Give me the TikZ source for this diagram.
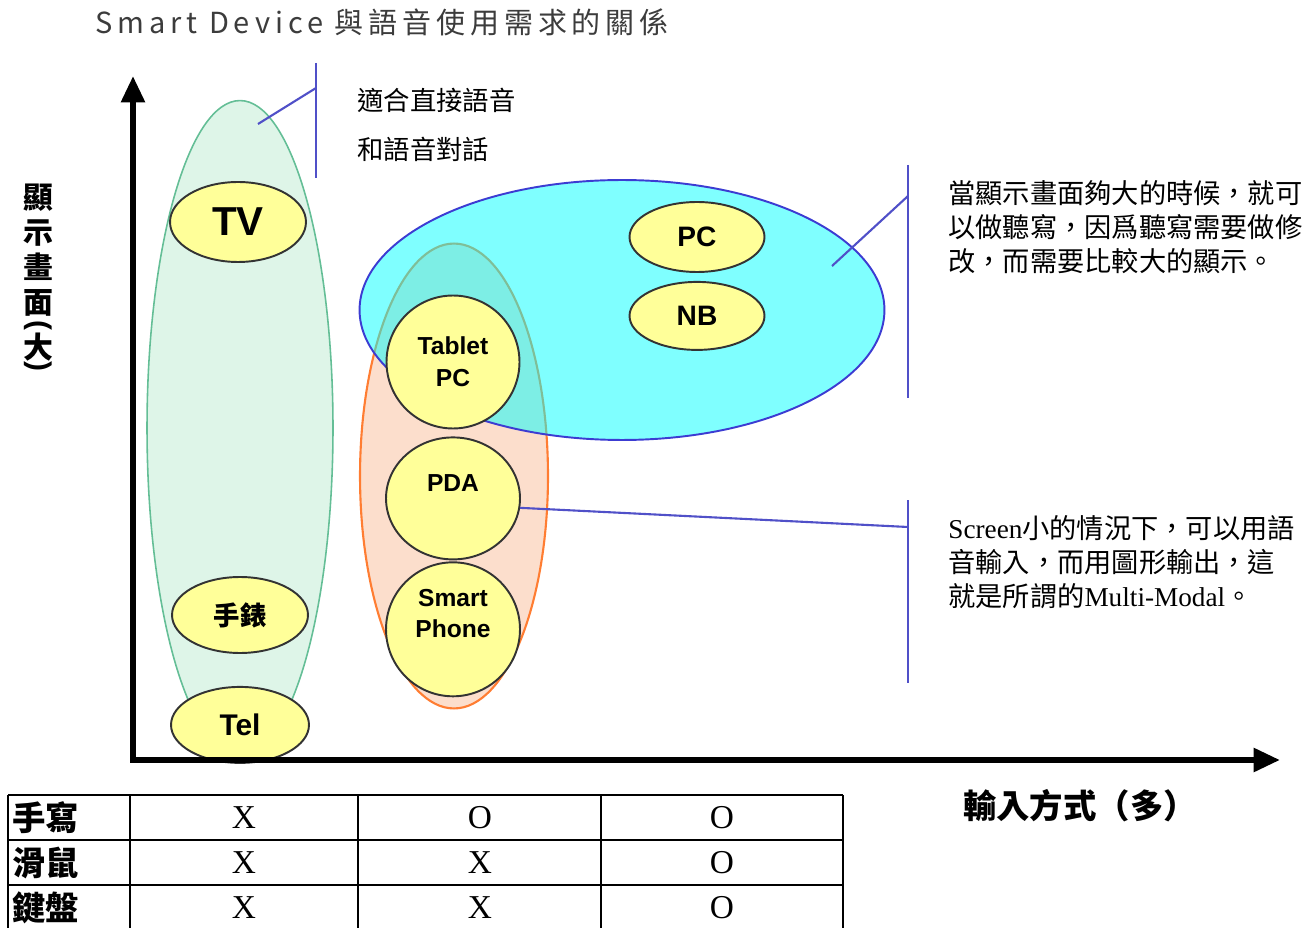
\documentclass[tikz,border=0pt]{standalone}
\usepackage{fontspec}
\setmainfont{Liberation Sans}
\newfontfamily\cjk{Noto Sans CJK TC}
\newfontfamily\cjktitle{Noto Sans CJK TC}[LetterSpace=17]
\newfontfamily\serifx{Liberation Serif}
\usepackage{xcolor}
\usepackage{graphicx}
\usepackage{tikz}
\usetikzlibrary{positioning,shapes.geometric,arrows.meta}

\definecolor{mintfill}{RGB}{222,245,232}
\definecolor{mintline}{RGB}{100,190,150}
\definecolor{screenfill}{RGB}{0,255,255}
\definecolor{screenline}{RGB}{60,60,210}
\definecolor{peachfill}{RGB}{252,222,204}
\definecolor{peachline}{RGB}{255,125,50}
\definecolor{devfill}{RGB}{255,255,153}
\definecolor{calloutline}{RGB}{80,80,200}
\definecolor{titlegray}{RGB}{60,60,60}

\begin{document}
\begin{tikzpicture}[
x=0.02cm, y=-0.02cm,
font=\cjk,
group/.style={ellipse, inner sep=0pt},
device/.style={ellipse, draw=black!80, line width=1.1pt, fill=devfill, inner sep=0pt, align=center, font=\rmfamily\bfseries\fontsize{14}{18}\selectfont},
callout/.style={draw=calloutline, line width=1.2pt},
note/.style={anchor=west, inner sep=0pt, align=left, font=\cjk\fontsize{15.5}{19.5}\selectfont},
axis/.style={line width=3.4pt, {Triangle[length=15pt,width=13pt]}-{Triangle[length=15pt,width=13pt]}},
ylab/.style={inner sep=0pt, align=center, font=\cjk\bfseries\fontsize{17}{19.8}\selectfont},
grid_line/.style={line width=1.2pt},
rowhead/.style={anchor=west, inner sep=0pt, font=\cjk\bfseries\fontsize{19}{19}\selectfont},
cell/.style={inner sep=0pt, font=\serifx\fontsize{19}{19}\selectfont}
]
\useasboundingbox (0,0) rectangle (1310,928);

% --- TITLE AND AXIS LABELS ---
\node[anchor=west, inner sep=0pt, text=titlegray, font=\cjktitle\fontsize{16.5}{16.5}\selectfont] (title) at (95,22) {Smart Device 與語音使用需求的關係};
\node[ylab] (ylabel) at (38,250) {顯\\示\\畫\\面};
\node[ylab, font=\rmfamily\bfseries\fontsize{17}{17}\selectfont] (ylparen) at (38,327) {\rotatebox[origin=c]{-90}{(}};
\node[ylab] (ylbig) at (38,347) {大};
\node[ylab, font=\rmfamily\bfseries\fontsize{17}{17}\selectfont] (yrparen) at (38,368) {\rotatebox[origin=c]{-90}{)}};
\node[inner sep=0pt, font=\cjk\bfseries\fontsize{19}{19}\selectfont] (xlabel) at (1080,806) {輸入方式（多）};

% --- GROUPS ---
\node[group, draw=mintline, fill=mintfill, line width=0.9pt, minimum width=3.72cm, minimum height=13.1cm] (voicegrp) at (240,428) {};
\node[group, draw=peachline, fill=peachfill, line width=1.2pt, minimum width=3.76cm, minimum height=9.3cm] (mobilegrp) at (454,476) {};
\node[group, draw=screenline, fill=screenfill, fill opacity=0.5, line width=1.1pt, minimum width=10.5cm, minimum height=5.2cm] (screengrp) at (622,310) {};

% --- DEVICES ---
\node[device, minimum width=2.72cm, minimum height=1.6cm, font=\rmfamily\bfseries\fontsize{23}{23}\selectfont] (tv) at (238,222) {TV};
\node[device, minimum width=2.72cm, minimum height=1.52cm, font=\cjk\bfseries\fontsize{15}{15}\selectfont] (watch) at (240,615) {手錶};
\node[device, minimum width=2.76cm, minimum height=1.52cm, below=0.64cm of watch, font=\rmfamily\bfseries\fontsize{17}{17}\selectfont] (tel) {Tel};

\node[device, minimum width=2.7cm, minimum height=1.4cm, font=\rmfamily\bfseries\fontsize{16}{16}\selectfont] (pc) at (697,237) {PC};
\node[device, minimum width=2.7cm, minimum height=1.36cm, below=0.16cm of pc, font=\rmfamily\bfseries\fontsize{16}{16}\selectfont] (nb) {NB};

\node[device, circle, minimum size=2.66cm] (tablet) at (453,362) {Tablet\\PC};
\node[device, minimum width=2.68cm, minimum height=2.44cm, below=0.14cm of tablet] (pda) {PDA\\\phantom{PDA}};
\node[device, circle, minimum size=2.68cm, below=0.02cm of pda] (phone) {Smart\\Phone\\\phantom{P}};

% --- AXES ---
\coordinate (origin) at (133,760);
\coordinate (ytip) at (133,76);
\coordinate (xtip) at (1280,760);
\draw[axis] (ytip) -- (origin) -- (xtip);

% --- CALLOUTS ---
\coordinate (voicept) at (258,124);
\coordinate (voicehook) at (316,88);
\draw[callout] (316,63) coordinate (voicetop) -- (316,178) coordinate (voicebot);
\draw[callout] (voicept) -- (voicehook);
\node[note, font=\cjk\fontsize{15}{28.3}\selectfont] (voicenote) at (357,125) {適合直接語音\\和語音對話};

\coordinate (screenpt) at (832,266);
\coordinate (screenhook) at (908,196);
\draw[callout] (908,165) coordinate (screentop) -- (908,398) coordinate (screenbot);
\draw[callout] (screenpt) -- (screenhook);
\node[note] (screennote) at (948,227) {當顯示畫面夠大的時候，就可\\以做聽寫，因爲聽寫需要做修\\改，而需要比較大的顯示。};

\coordinate (mobilehook) at (908,527);
\draw[callout] (908,500) coordinate (mobiletop) -- (908,683) coordinate (mobilebot);
\draw[callout] (pda.-8) -- (mobilehook);
\node[note] (mobilenote) at (948,562) {{\serifx Screen}小的情況下，可以用語\\音輸入，而用圖形輸出，這\\就是所謂的{\serifx Multi-Modal}。};

% --- TABLE ---
\foreach \ty in {795,840,885}
  \draw[grid_line] (8,\ty) -- (843,\ty);
\foreach \tx in {8,130,358,601,843}
  \draw[grid_line] (\tx,795) -- (\tx,928);
\foreach \lbl [count=\r] in {手寫,滑鼠,鍵盤}
  \node[rowhead] (row\r) at (12,{773+45*\r}) {\lbl};
\foreach \r/\ca/\cb/\cc in {1/X/O/O, 2/X/X/O, 3/X/X/O} {
  \node[cell] (cell\r a) at (244,{773+45*\r}) {\ca};
  \node[cell] (cell\r b) at (480,{773+45*\r}) {\cb};
  \node[cell] (cell\r c) at (722,{773+45*\r}) {\cc};
}

\end{tikzpicture}
\end{document}
